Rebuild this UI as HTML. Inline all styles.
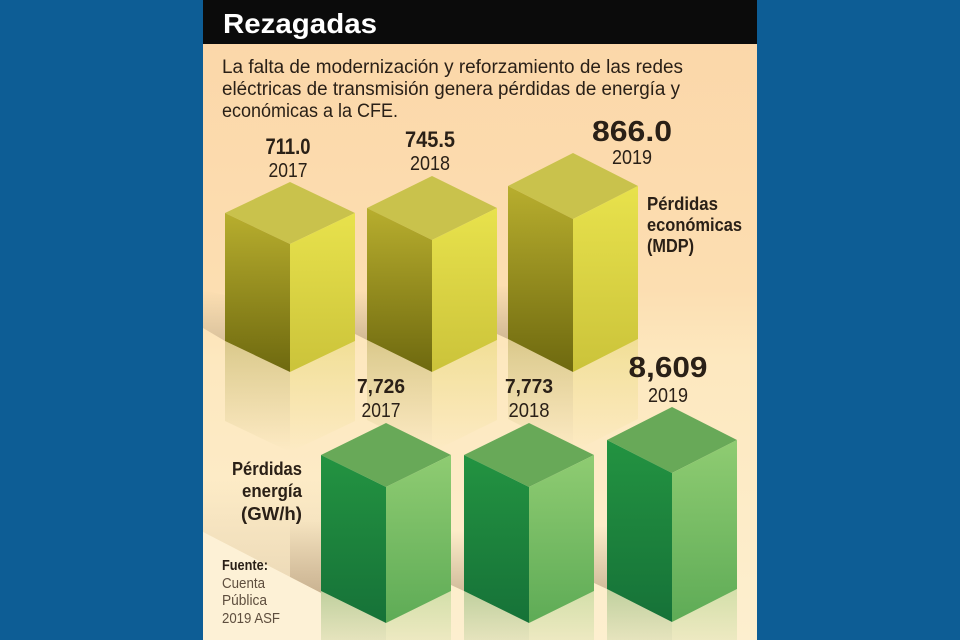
<!DOCTYPE html>
<html>
<head>
<meta charset="utf-8">
<style>
  html,body{margin:0;padding:0;background:#0d5d95;}
  svg{display:block;}
  text{font-family:"Liberation Sans", sans-serif;}
</style>
</head>
<body>
<svg width="960" height="640" viewBox="0 0 960 640" xmlns="http://www.w3.org/2000/svg">
  <defs>
    <linearGradient id="bg" x1="0" y1="0" x2="0" y2="640" gradientUnits="userSpaceOnUse">
      <stop offset="0" stop-color="#fbd6a8"/>
      <stop offset="0.45" stop-color="#fcdeb1"/>
      <stop offset="0.56" stop-color="#fde8bf"/>
      <stop offset="1" stop-color="#fdefcf"/>
    </linearGradient>
    <linearGradient id="yl" x1="0" y1="0" x2="0" y2="1">
      <stop offset="0" stop-color="#b8ae2e"/>
      <stop offset="1" stop-color="#6e690f"/>
    </linearGradient>
    <linearGradient id="yr" x1="0" y1="0" x2="0" y2="1">
      <stop offset="0" stop-color="#e8e24c"/>
      <stop offset="1" stop-color="#cbc33a"/>
    </linearGradient>
    <linearGradient id="gl" x1="0" y1="0" x2="0" y2="1">
      <stop offset="0" stop-color="#239341"/>
      <stop offset="1" stop-color="#167238"/>
    </linearGradient>
    <linearGradient id="gr" x1="0" y1="0" x2="0" y2="1">
      <stop offset="0" stop-color="#8fcc72"/>
      <stop offset="1" stop-color="#5eab56"/>
    </linearGradient>
    <linearGradient id="ylr" x1="0" y1="0" x2="0" y2="1">
      <stop offset="0" stop-color="#8a8418" stop-opacity="0.3"/>
      <stop offset="1" stop-color="#8a8418" stop-opacity="0"/>
    </linearGradient>
    <linearGradient id="yrr" x1="0" y1="0" x2="0" y2="1">
      <stop offset="0" stop-color="#d6cd3e" stop-opacity="0.3"/>
      <stop offset="1" stop-color="#d6cd3e" stop-opacity="0"/>
    </linearGradient>
    <linearGradient id="glr" x1="0" y1="0" x2="0" y2="1">
      <stop offset="0" stop-color="#4f9a4a" stop-opacity="0.35"/>
      <stop offset="1" stop-color="#4f9a4a" stop-opacity="0.05"/>
    </linearGradient>
    <linearGradient id="grr" x1="0" y1="0" x2="0" y2="1">
      <stop offset="0" stop-color="#86c46a" stop-opacity="0.35"/>
      <stop offset="1" stop-color="#86c46a" stop-opacity="0.05"/>
    </linearGradient>
    <linearGradient id="sh" x1="0" y1="0" x2="0" y2="1">
      <stop offset="0" stop-color="#b09574" stop-opacity="0"/>
      <stop offset="1" stop-color="#b09574" stop-opacity="0.55"/>
    </linearGradient>
    <linearGradient id="shl" x1="0" y1="0" x2="0" y2="1">
      <stop offset="0" stop-color="#c9b08c" stop-opacity="0"/>
      <stop offset="1" stop-color="#c9b08c" stop-opacity="0.35"/>
    </linearGradient>
  </defs>

  <!-- background -->
  <rect width="960" height="640" fill="#0d5d95"/>
  <rect x="203" y="0" width="554" height="640" fill="url(#bg)"/>

  <!-- green-row shadow region and light triangle -->
  <polygon points="203,480 321,480 321,593 203,532" fill="url(#shl)"/>
  <polygon points="290,520 321,520 321,593 290,577" fill="url(#sh)"/>
  <polygon points="203,532 321,593 321,640 203,640" fill="#fdf1d6"/>
  <polygon points="451,530 464,530 464,591 451,585" fill="url(#sh)"/>
  <polygon points="594,525 607,525 607,589 594,583" fill="url(#sh)"/>

  <!-- yellow-row shadows -->
  <polygon points="203,290 225,295 225,341 203,328" fill="url(#sh)" opacity="0.8"/>
  <polygon points="355,290 367,290 367,340 355,334" fill="url(#sh)"/>
  <polygon points="497,285 508,285 508,339 497,334" fill="url(#sh)"/>

  <!-- yellow reflections -->
  <polygon points="225,341 290,372 290,452 225,421" fill="url(#ylr)"/>
  <polygon points="290,372 355,341 355,421 290,452" fill="url(#yrr)"/>
  <polygon points="367,340 432,372 432,452 367,420" fill="url(#ylr)"/>
  <polygon points="432,372 497,340 497,420 432,452" fill="url(#yrr)"/>
  <polygon points="508,339 573,372 573,452 508,419" fill="url(#ylr)"/>
  <polygon points="573,372 638,339 638,419 573,452" fill="url(#yrr)"/>

  <!-- green reflections -->
  <polygon points="321,591 386,623 386,660 321,640" fill="url(#glr)"/>
  <polygon points="386,623 451,591 451,640 386,660" fill="url(#grr)"/>
  <polygon points="464,591 529,623 529,660 464,640" fill="url(#glr)"/>
  <polygon points="529,623 594,591 594,640 529,660" fill="url(#grr)"/>
  <polygon points="607,589 672,622 672,660 607,640" fill="url(#glr)"/>
  <polygon points="672,622 737,589 737,640 672,660" fill="url(#grr)"/>

  <!-- yellow cubes -->
  <polygon points="290,182 355,213 290,244 225,213" fill="#c9c24c"/>
  <polygon points="225,213 290,244 290,372 225,341" fill="url(#yl)"/>
  <polygon points="290,244 355,213 355,341 290,372" fill="url(#yr)"/>

  <polygon points="432,176 497,208 432,240 367,208" fill="#c9c24c"/>
  <polygon points="367,208 432,240 432,372 367,340" fill="url(#yl)"/>
  <polygon points="432,240 497,208 497,340 432,372" fill="url(#yr)"/>

  <polygon points="573,153 638,186 573,219 508,186" fill="#c9c24c"/>
  <polygon points="508,186 573,219 573,372 508,339" fill="url(#yl)"/>
  <polygon points="573,219 638,186 638,339 573,372" fill="url(#yr)"/>

  <!-- green cubes -->
  <polygon points="386,423 451,455 386,487 321,455" fill="#68a958"/>
  <polygon points="321,455 386,487 386,623 321,591" fill="url(#gl)"/>
  <polygon points="386,487 451,455 451,591 386,623" fill="url(#gr)"/>

  <polygon points="529,423 594,455 529,487 464,455" fill="#68a958"/>
  <polygon points="464,455 529,487 529,623 464,591" fill="url(#gl)"/>
  <polygon points="529,487 594,455 594,591 529,623" fill="url(#gr)"/>

  <polygon points="672,407 737,440 672,473 607,440" fill="#68a958"/>
  <polygon points="607,440 672,473 672,622 607,589" fill="url(#gl)"/>
  <polygon points="672,473 737,440 737,589 672,622" fill="url(#gr)"/>

  <!-- header -->
  <rect x="203" y="0" width="554" height="44" fill="#0b0b0b"/>
  <text x="223" y="33" font-size="28" font-weight="bold" fill="#ffffff" textLength="154" lengthAdjust="spacingAndGlyphs">Rezagadas</text>

  <!-- subtitle -->
  <g fill="#2a2017" font-size="19">
    <text x="222" y="73" textLength="461" lengthAdjust="spacingAndGlyphs">La falta de modernización y reforzamiento de las redes</text>
    <text x="222" y="95" textLength="458" lengthAdjust="spacingAndGlyphs">eléctricas de transmisión genera pérdidas de energía y</text>
    <text x="222" y="117" textLength="176" lengthAdjust="spacingAndGlyphs">económicas a la CFE.</text>
  </g>

  <!-- yellow labels -->
  <g fill="#2a2017" text-anchor="middle">
    <text x="288" y="154" font-size="22" font-weight="bold" textLength="45" lengthAdjust="spacingAndGlyphs">711.0</text>
    <text x="288" y="177" font-size="20" textLength="39" lengthAdjust="spacingAndGlyphs">2017</text>
    <text x="430" y="147" font-size="22" font-weight="bold" textLength="50" lengthAdjust="spacingAndGlyphs">745.5</text>
    <text x="430" y="170" font-size="20" textLength="40" lengthAdjust="spacingAndGlyphs">2018</text>
    <text x="632" y="141" font-size="29" font-weight="bold" textLength="80" lengthAdjust="spacingAndGlyphs">866.0</text>
    <text x="632" y="164" font-size="20" textLength="40" lengthAdjust="spacingAndGlyphs">2019</text>
  </g>

  <!-- green labels -->
  <g fill="#2a2017" text-anchor="middle">
    <text x="381" y="393" font-size="20" font-weight="bold" textLength="48" lengthAdjust="spacingAndGlyphs">7,726</text>
    <text x="381" y="417" font-size="20" textLength="39" lengthAdjust="spacingAndGlyphs">2017</text>
    <text x="529" y="393" font-size="20" font-weight="bold" textLength="48" lengthAdjust="spacingAndGlyphs">7,773</text>
    <text x="529" y="417" font-size="20" textLength="41" lengthAdjust="spacingAndGlyphs">2018</text>
    <text x="668" y="377" font-size="29" font-weight="bold" textLength="79" lengthAdjust="spacingAndGlyphs">8,609</text>
    <text x="668" y="402" font-size="20" textLength="40" lengthAdjust="spacingAndGlyphs">2019</text>
  </g>

  <!-- series labels -->
  <g fill="#2a2017" font-size="18" font-weight="bold">
    <text x="647" y="210" textLength="71" lengthAdjust="spacingAndGlyphs">Pérdidas</text>
    <text x="647" y="231" textLength="95" lengthAdjust="spacingAndGlyphs">económicas</text>
    <text x="647" y="252" textLength="47" lengthAdjust="spacingAndGlyphs">(MDP)</text>
  </g>
  <g fill="#2a2017" font-size="18" font-weight="bold" text-anchor="end">
    <text x="302" y="475" textLength="70" lengthAdjust="spacingAndGlyphs">Pérdidas</text>
    <text x="302" y="497" textLength="60" lengthAdjust="spacingAndGlyphs">energía</text>
    <text x="302" y="520" textLength="61" lengthAdjust="spacingAndGlyphs">(GW/h)</text>
  </g>

  <!-- source -->
  <text x="222" y="570" font-size="15" font-weight="bold" fill="#2a2017" textLength="46" lengthAdjust="spacingAndGlyphs">Fuente:</text>
  <g fill="#5e4e3e" font-size="15">
    <text x="222" y="588" textLength="43" lengthAdjust="spacingAndGlyphs">Cuenta</text>
    <text x="222" y="605" textLength="45" lengthAdjust="spacingAndGlyphs">Pública</text>
    <text x="222" y="623" textLength="58" lengthAdjust="spacingAndGlyphs">2019 ASF</text>
  </g>
</svg>
</body>
</html>
